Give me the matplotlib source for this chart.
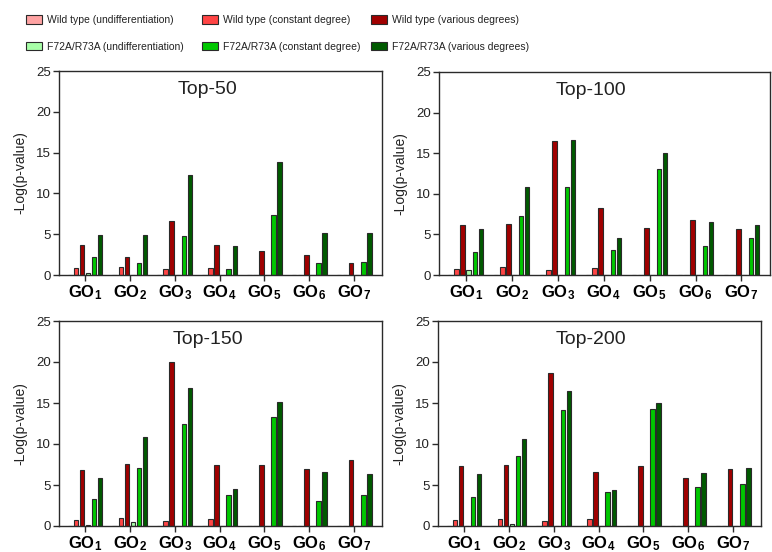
import matplotlib
matplotlib.use('Agg')
import matplotlib.pyplot as plt
from matplotlib import font_manager
import numpy as np

# ---------------- data ----------------
go_index = ['1', '2', '3', '4', '5', '6', '7']
panel_titles = ['Top-50', 'Top-100', 'Top-150', 'Top-200']
series_labels = ['Wild type (undifferentiation)', 'Wild type (constant degree)',
                 'Wild type (various degrees)', 'F72A/R73A (undifferentiation)',
                 'F72A/R73A (constant degree)', 'F72A/R73A (various degrees)']
series_colors = ['#FFA3A3', '#FF4545', '#A00000', '#A8FFA8', '#00C800', '#005A00']

# Top-50
t50_wt_undiff = [0, 0, 0, 0, 0, 0, 0]
t50_wt_const = [0.8, 1.0, 0.7, 0.9, 0, 0, 0]
t50_wt_var = [3.7, 2.2, 6.6, 3.7, 2.9, 2.4, 1.5]
t50_mut_undiff = [0.3, 0, 0, 0, 0, 0, 0]
t50_mut_const = [2.2, 1.5, 4.8, 0.7, 7.3, 1.5, 1.6]
t50_mut_var = [4.9, 4.9, 12.3, 3.6, 13.9, 5.1, 5.1]
# Top-100
t100_wt_undiff = [0, 0, 0, 0, 0, 0, 0]
t100_wt_const = [0.7, 1.0, 0.6, 0.9, 0, 0, 0]
t100_wt_var = [6.1, 6.3, 16.5, 8.2, 5.8, 6.8, 5.7]
t100_mut_undiff = [0.6, 0.05, 0.05, 0, 0, 0, 0]
t100_mut_const = [2.8, 7.3, 10.8, 3.1, 13.0, 3.6, 4.6]
t100_mut_var = [5.7, 10.8, 16.6, 4.5, 15.0, 6.5, 6.2]
# Top-150
t150_wt_undiff = [0, 0, 0, 0, 0, 0, 0]
t150_wt_const = [0.7, 1.0, 0.6, 0.9, 0, 0, 0]
t150_wt_var = [6.8, 7.6, 20.0, 7.5, 7.4, 6.9, 8.0]
t150_mut_undiff = [0.1, 0.5, 0.05, 0, 0, 0, 0]
t150_mut_const = [3.3, 7.1, 12.5, 3.8, 13.3, 3.1, 3.8]
t150_mut_var = [5.8, 10.8, 16.8, 4.5, 15.1, 6.6, 6.3]
# Top-200
t200_wt_undiff = [0, 0, 0, 0, 0, 0, 0]
t200_wt_const = [0.7, 0.9, 0.6, 0.9, 0, 0, 0]
t200_wt_var = [7.3, 7.5, 18.6, 6.6, 7.3, 5.9, 7.0]
t200_mut_undiff = [0, 0.3, 0, 0, 0, 0, 0]
t200_mut_const = [3.5, 8.5, 14.2, 4.2, 14.3, 4.8, 5.1]
t200_mut_var = [6.3, 10.6, 16.5, 4.4, 15.0, 6.5, 7.1]

panel_data = [
    [t50_wt_undiff, t50_wt_const, t50_wt_var, t50_mut_undiff, t50_mut_const, t50_mut_var],
    [t100_wt_undiff, t100_wt_const, t100_wt_var, t100_mut_undiff, t100_mut_const, t100_mut_var],
    [t150_wt_undiff, t150_wt_const, t150_wt_var, t150_mut_undiff, t150_mut_const, t150_mut_var],
    [t200_wt_undiff, t200_wt_const, t200_wt_var, t200_mut_undiff, t200_mut_const, t200_mut_var],
]

# ---------------- style ----------------
names = {f.name for f in font_manager.fontManager.ttflist}
base_font = 'Liberation Sans' if 'Liberation Sans' in names else 'DejaVu Sans'
plt.rcParams['font.family'] = [base_font, 'DejaVu Sans']
plt.rcParams['mathtext.fontset'] = 'custom'
plt.rcParams['mathtext.rm'] = base_font
plt.rcParams['mathtext.bf'] = base_font + ':bold'

W, H = 772, 552
fig = plt.figure(figsize=(W / 100, H / 100), dpi=100)

# axes rectangles in pixels: left, top, right, bottom
rects_px = [(59, 71, 382, 275), (439, 72, 770, 275),
            (59, 321, 382, 526), (438, 321, 761, 526)]
title_x = [0.46, 0.46, 0.46, 0.475]

edge = '#2a2a2a'
step = 0.135
width = 0.10
x = np.arange(len(go_index))
handles = []
for p, (l, t, r, b) in enumerate(rects_px):
    ax = fig.add_axes([l / W, 1 - b / H, (r - l) / W, (b - t) / H])
    for i, vals in enumerate(panel_data[p]):
        bars = ax.bar(x + (i - 2.5) * step, vals, width=width, color=series_colors[i],
                      edgecolor=edge, linewidth=0.8, label=series_labels[i], zorder=2)
        if p == 0:
            handles.append(bars)
    ax.set_xlim(-0.58, 6.62)
    ax.set_ylim(0, 25)
    ax.set_yticks([0, 5, 10, 15, 20, 25])
    ax.set_xticks(x)
    ax.set_xticklabels([r'$\mathbf{GO_{%s}}$' % g for g in go_index], fontsize=12)
    ax.tick_params(axis='y', labelsize=9.5, length=4, width=1, color=edge, pad=2,
                   labelcolor='#222222')
    ax.tick_params(axis='x', length=4, width=1, color=edge, pad=2)
    for s in ax.spines.values():
        s.set_color(edge)
        s.set_linewidth(1.0)
    ax.set_ylabel('-Log(p-value)', fontsize=10, color='#222222')
    ax.yaxis.set_label_coords(-32 / (r - l), 0.5)
    ax.text(title_x[p], 0.91, panel_titles[p], transform=ax.transAxes,
            ha='center', va='center', fontsize=14, color='#222222')

# legend: three columns (undiff / constant / various), rows = WT / mutant
col_x = [26, 202, 371]
for c in range(3):
    leg = fig.legend([handles[c], handles[c + 3]], [series_labels[c], series_labels[c + 3]],
                     loc='upper left', bbox_to_anchor=(col_x[c] / W, 1 - 15 / H),
                     frameon=False, prop={'size': 7.5}, handlelength=1.5,
                     handleheight=0.9, handletextpad=0.5, labelspacing=1.6,
                     borderaxespad=0, borderpad=0)
    for txt in leg.get_texts():
        txt.set_color('#222222')

fig.savefig('out.png', dpi=100)
